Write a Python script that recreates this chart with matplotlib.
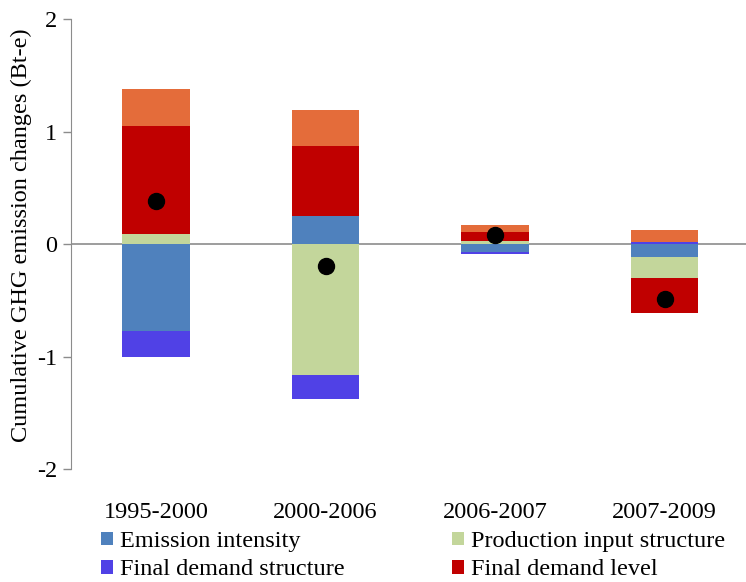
import numpy as np
import matplotlib.pyplot as plt

plt.rcParams['font.family'] = ['Liberation Serif', 'DejaVu Serif']
plt.rcParams['axes.unicode_minus'] = False

periods = ['1995-2000', '2000-2006', '2006-2007', '2007-2009']
# stacking order follows the series order (Excel style)
emission_intensity = [-0.77, 0.25, -0.07, -0.11]
production_input = [0.09, -1.16, 0.03, -0.19]
final_demand_structure = [-0.23, -0.22, -0.02, 0.02]
final_demand_level = [0.96, 0.62, 0.08, -0.31]
other_effect = [0.33, 0.32, 0.06, 0.105]

series = [
    ('Emission intensity', emission_intensity, '#4F81BD'),
    ('Production input structure', production_input, '#C3D69B'),
    ('Final demand structure', final_demand_structure, '#5041E6'),
    ('Final demand level', final_demand_level, '#C00000'),
    (None, other_effect, '#E46C3A'),
]

fig = plt.figure(figsize=(7.46, 5.82), dpi=100)
ax = fig.add_axes([0.0955, 0.194, 0.909, 0.773])

x = np.arange(len(periods))
pos_base = np.zeros(len(periods))
neg_base = np.zeros(len(periods))
handles = {}
for name, vals, col in series:
    vals = np.array(vals)
    base = np.where(vals >= 0, pos_base, neg_base)
    b = ax.bar(x, vals, 0.4, bottom=base, color=col, edgecolor='none')
    pos_base += np.where(vals >= 0, vals, 0)
    neg_base += np.where(vals < 0, vals, 0)
    if name:
        handles[name] = b

net = pos_base + neg_base
ax.plot(x, net, 'o', color='black', markersize=11.5, zorder=5)

ax.axhline(0, color='#8c8c8c', linewidth=1.2, zorder=0)
ax.set_xlim(-0.5, 3.5)
ax.set_ylim(-2, 2)
ax.set_yticks([-2, -1, 0, 1, 2])
ax.tick_params(axis='y', labelsize=17.5, color='#8c8c8c', length=6, width=1, pad=4)
ax.tick_params(axis='x', length=0, labelsize=17.5, pad=24)
ax.set_xticks(x)
ax.set_xticklabels(periods)
for s in ['top', 'right', 'bottom']:
    ax.spines[s].set_visible(False)
ax.spines['left'].set_color('#8c8c8c')
ax.set_ylabel('Cumulative GHG emission changes (Bt-e)', fontsize=17.5)
ax.yaxis.set_label_coords(-0.058, 0.52)

order = ['Emission intensity', 'Final demand structure',
         'Production input structure', 'Final demand level']
fig.legend([handles[n] for n in order], order, ncol=2, loc='center left',
           bbox_to_anchor=(0.135, 0.045), frameon=False, fontsize=17.5,
           borderpad=0, borderaxespad=0,
           handlelength=0.5, handleheight=0.5, handletextpad=0.3,
           columnspacing=4.4, labelspacing=0.3)

fig.savefig('out.png', dpi=100)
